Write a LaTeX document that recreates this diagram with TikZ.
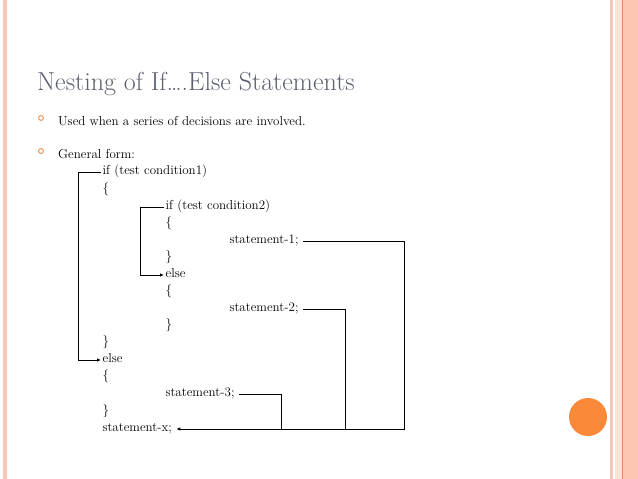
\documentclass[tikz,border=0pt]{standalone}
\usetikzlibrary{arrows.meta}
\definecolor{FramePink}{HTML}{F7C6B6}
\definecolor{StripeLight}{HTML}{FDE2D6}
\definecolor{StripeFill}{HTML}{FCC6B2}
\definecolor{StripeDark}{HTML}{E08A64}
\definecolor{DotOrange}{HTML}{FA8A3A}
\definecolor{TitleGray}{HTML}{5B6170}
\definecolor{BulletOrange}{HTML}{E8924E}
\tikzset{
	code/.style={anchor=west, inner sep=1.5pt, text height=1.6ex, text depth=.3ex,
		font=\fontsize{13}{15}\selectfont},
	exit/.style={code, outer sep=3pt},
	bodytext/.style={anchor=west, inner sep=0pt, font=\fontsize{13}{15}\selectfont},
	flow/.style={line width=0.8pt},
	bullet/.style={draw=BulletOrange, line width=1pt}
}
\begin{document}
\begin{tikzpicture}[x=1pt, y=-1pt, >={Latex[length=4pt,width=3.5pt]}, line cap=butt]
	\useasboundingbox (0,0) rectangle (638,479);
	
	% -- Slide frame ---------------------------------------------
	\fill[white] (0,0) rectangle (638,479);
	\fill[FramePink] (3,0) rectangle (7,479);
	\fill[FramePink] (610,0) rectangle (613,479);
	\fill[StripeLight] (615,0) rectangle (622,479);
	\fill[StripeFill] (622,0) rectangle (638,479);
	\draw[StripeDark, line width=0.8pt] (622.5,0) -- (622.5,479);
	\fill[DotOrange] (588,417) circle (19);
	
	% -- Title and bullets ---------------------------------------
	\node[anchor=base west, inner sep=0pt, text=TitleGray,
		font=\fontsize{26}{30}\selectfont] (title) at (37,90)
		{Nesting of If\dots.Else Statements};
	
	\draw[bullet] (41,118) circle (2.4);
	\node[bodytext] (used) at (58,121) {Used when a series of decisions are involved.};
	\draw[bullet] (41,151) circle (2.4);
	\node[bodytext] (general) at (58,154) {General form:};
	
	% -- Code lines ----------------------------------------------
	\node[code] (if1)  at (101,172) {if (test condition1)};
	\node[code] (ob1)  at (101,190) {\{};
	\node[code] (if2)  at (164,207) {if (test condition2)};
	\node[code] (ob2)  at (164,224) {\{};
	\node[exit] (st1)  at (225,241) {statement-1;};
	\node[code] (cb2)  at (164,258) {\}};
	\node[code] (el2)  at (164,275) {else};
	\node[code] (ob3)  at (164,292) {\{};
	\node[exit] (st2)  at (225,309) {statement-2;};
	\node[code] (cb3)  at (164,326) {\}};
	\node[code] (cb1)  at (101,343) {\}};
	\node[code] (el1)  at (101,360) {else};
	\node[code] (ob4)  at (101,377) {\{};
	\node[exit] (st3)  at (161,394) {statement-3;};
	\node[code] (cb4)  at (101,412) {\}};
	\node[exit] (stx)  at (98,429) {statement-x;};
	
	% -- Branch connectors ---------------------------------------
	\draw[flow,->] (if1.west) -- ++(-23,0) |- (el1.west);
	\draw[flow,->] (if2.west) -- ++(-24,0) |- (el2.west);
	
	% -- Exits to statement-x ------------------------------------
	\coordinate (r1) at (404,0);
	\coordinate (r2) at (345,0);
	\coordinate (r3) at (281.5,0);
	\draw[flow,->] (st1.east) -- (st1.east -| r1) |- (stx.east);
	\draw[flow] (st2.east) -- (st2.east -| r2) -- (r2 |- stx.east);
	\draw[flow] (st3.east) -- (st3.east -| r3) -- (r3 |- stx.east);
	
\end{tikzpicture}
\end{document}
